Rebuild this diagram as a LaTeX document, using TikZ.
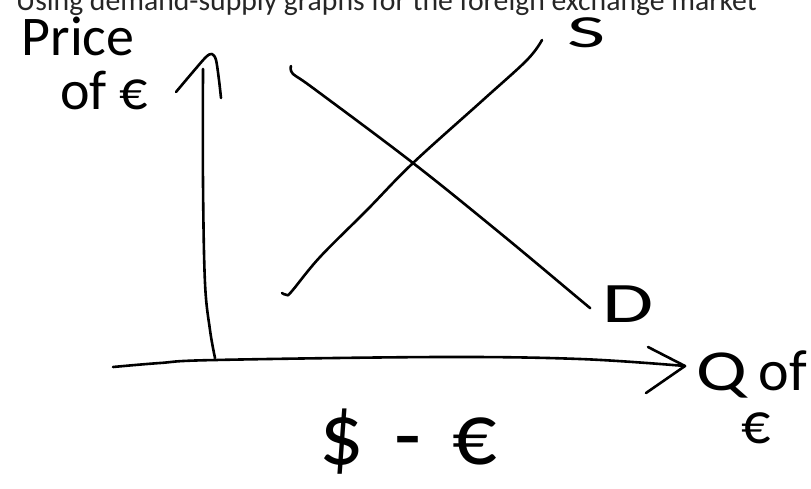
\documentclass[tikz,border=0pt]{standalone}
\usepackage{fontspec}
\setmainfont{Carlito}
\tikzset{
  ink/.style={line width=2.6pt, line cap=round, line join=round, black},
  hand/.style={font=\fontsize{#1}{#1}\selectfont, inner sep=0pt},
  title/.style={font=\fontsize{29.7}{29.7}\selectfont, inner sep=0pt, text=black!85}
}
\begin{document}
\begin{tikzpicture}[x=1pt,y=-1pt]
\useasboundingbox (0,0) rectangle (811,488);
\clip (0,0) rectangle (811,488);
\node[title, anchor=base west] (ttl) at (16,10) {Using demand-supply graphs for the foreign exchange market};
% axes
\coordinate (ytop) at (203,69);
\coordinate (ybot) at (215,358);
\coordinate (xl) at (113,367);
\coordinate (xr) at (685,366);
\draw[ink] plot[smooth, tension=0.6] coordinates {(ytop) (203,183) (205,283) (210,330) (ybot)};
\draw[ink] plot[smooth, tension=0.5] coordinates {(176,92) (192,73) (206,57) (212,54) (216,60) (219,80) (221,98)};
\draw[ink] plot[smooth, tension=0.6] coordinates {(xl) (160,363) (215,360) (440,357) (580,359) (xr)};
\draw[ink] (648,347) -- (xr) -- (646,393);
% demand
\coordinate (d0) at (291,66);
\coordinate (d1) at (590,308);
\draw[ink] plot[smooth, tension=0.6] coordinates {(d0) (293,74) (313,88) (413,163) (500,233) (578,298) (d1)};
% supply
\coordinate (s0) at (282,293);
\coordinate (s1) at (542,40);
\draw[ink] plot[smooth, tension=0.6] coordinates {(s0) (287,295) (292,291) (320,257) (367,210) (413,163) (483,100) (527,60) (s1)};
% labels
\node[hand=46] (S) at (587,33) {\scalebox{1.8}[1]{S}};
\node[hand=52] (D) at (628,304) {\scalebox{1.6}[1.1]{D}};
\node[hand=56] (price) at (78,36) {Price};
\node[hand=56] (ofe) at (104,90) {of €};
\node[hand=58, anchor=west] (Qof) at (696,374) {\scalebox{1.3}[1]{Q}\hspace{0.2em}of};
\node[hand=58] (qe) at (756,428) {€};
\node[hand=88] (dollar) at (408,442) {\$\hspace{0.35em}-\hspace{0.35em}€};
\end{tikzpicture}
\end{document}
